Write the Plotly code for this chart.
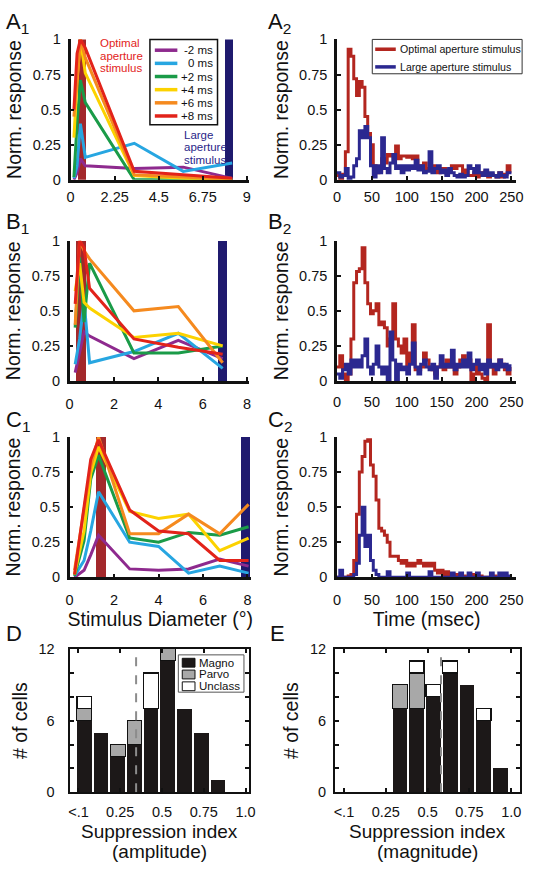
import plotly.graph_objects as go

W, H = 535, 869
FONT = "Liberation Sans, Arial, Helvetica, sans-serif"
BLACK = "#111111"

# ---------------- data ----------------
delay_labels = ["-2 ms", "0 ms", "+2 ms", "+4 ms", "+6 ms", "+8 ms"]
delay_colors = ["#8e2a8e", "#27a6e1", "#1a9b48", "#fcd200", "#f58a1f", "#e2231a"]

# Panel A1 : normalised response vs stimulus diameter (deg)
a1_diameter = [0.17, 0.33, 0.5, 0.75, 3.25, 5.75, 8.25]
a1_m2 = [0.00, 0.05, 0.15, 0.10, 0.08, 0.09, 0.01]
a1_0 = [0.01, 0.10, 0.40, 0.16, 0.26, 0.06, 0.12]
a1_p2 = [0.02, 0.40, 0.71, 0.55, 0.00, 0.00, 0.00]
a1_p4 = [0.30, 0.70, 1.00, 0.76, 0.03, 0.01, 0.00]
a1_p6 = [0.45, 0.69, 1.00, 0.87, 0.035, 0.02, 0.00]
a1_p8 = [0.50, 0.90, 1.00, 0.94, 0.06, 0.035, 0.01]

# Panel B1
b1_diameter = [0.25, 0.45, 0.65, 0.9, 2.9, 4.9, 6.9]
b1_m2 = [0.06, 0.20, 0.35, 0.32, 0.16, 0.29, 0.16]
b1_0 = [0.12, 0.30, 0.57, 0.13, 0.21, 0.34, 0.09]
b1_p2 = [0.38, 0.88, 0.42, 0.84, 0.20, 0.20, 0.25]
b1_p4 = [0.64, 0.84, 0.56, 0.52, 0.31, 0.34, 0.25]
b1_p6 = [0.40, 1.00, 0.93, 0.87, 0.50, 0.53, 0.13]
b1_p8 = [0.55, 1.00, 0.95, 0.66, 0.30, 0.24, 0.19]

# Panel C1
c1_diameter = [0.22, 0.65, 0.95, 1.3, 2.7, 4.0, 5.35, 6.75, 8.05]
c1_m2 = [0.00, 0.05, 0.16, 0.30, 0.06, 0.05, 0.06, 0.13, 0.08]
c1_0 = [0.01, 0.12, 0.33, 0.61, 0.25, 0.22, 0.03, 0.08, 0.03]
c1_p2 = [0.01, 0.26, 0.70, 0.87, 0.28, 0.25, 0.32, 0.30, 0.36]
c1_p4 = [0.02, 0.33, 0.74, 0.93, 0.47, 0.42, 0.45, 0.19, 0.28]
c1_p6 = [0.05, 0.47, 0.79, 1.00, 0.31, 0.31, 0.45, 0.31, 0.52]
c1_p8 = [0.02, 0.49, 0.84, 0.98, 0.48, 0.33, 0.31, 0.12, 0.12]

# optimal / large aperture markers (diameter, normalised height)
optimal_aperture = [0.58, 0.51, 1.4]
large_aperture = [8.1, 6.88, 7.92]
aperture_height = 1.0

# PSTHs (4 ms bins, 0-248 ms)
psth_time = list(range(0, 252, 4))
a2_optimal = [0.03, 0.00, 0.04, 0.20, 0.93, 0.88, 0.72, 0.60, 0.70, 0.66,
              0.45, 0.33, 0.25, 0.10, 0.05, 0.06, 0.15, 0.12, 0.18, 0.17,
              0.18, 0.24, 0.15, 0.17, 0.17, 0.16, 0.17, 0.15, 0.17, 0.10,
              0.10, 0.12, 0.08, 0.08, 0.10, 0.08, 0.05, 0.08, 0.08, 0.05,
              0.06, 0.10, 0.08, 0.10, 0.10, 0.05, 0.07, 0.03, 0.03, 0.05,
              0.02, 0.05, 0.03, 0.06, 0.02, 0.04, 0.03, 0.02, 0.05, 0.02,
              0.04, 0.10, 0.05]
a2_large = [0.05, 0.02, 0.03, 0.08, 0.00, 0.02, 0.10, 0.15, 0.35, 0.30,
            0.38, 0.30, 0.10, 0.02, 0.10, 0.05, 0.30, 0.08, 0.05, 0.12,
            0.18, 0.08, 0.10, 0.05, 0.10, 0.07, 0.10, 0.08, 0.14, 0.07,
            0.10, 0.05, 0.06, 0.20, 0.05, 0.08, 0.10, 0.05, 0.07, 0.03,
            0.08, 0.05, 0.03, 0.02, 0.04, 0.02, 0.03, 0.10, 0.08, 0.05,
            0.10, 0.05, 0.03, 0.07, 0.03, 0.05, 0.03, 0.02, 0.05, 0.03,
            0.02, 0.05, 0.04]
b2_optimal = [0.10, 0.18, 0.05, 0.00, 0.05, 0.30, 0.70, 0.78, 0.80, 0.95,
              0.70, 0.55, 0.48, 0.50, 0.55, 0.40, 0.42, 0.38, 0.25, 0.30,
              0.55, 0.30, 0.25, 0.20, 0.30, 0.10, 0.20, 0.40, 0.08, 0.08,
              0.10, 0.20, 0.15, 0.10, 0.08, 0.05, 0.10, 0.12, 0.08, 0.15,
              0.10, 0.12, 0.05, 0.10, 0.15, 0.18, 0.12, 0.15, 0.00, 0.05,
              0.12, 0.05, 0.02, 0.00, 0.40, 0.10, 0.05, 0.10, 0.15, 0.12,
              0.08, 0.05, 0.10]
b2_large = [0.05, 0.02, 0.08, 0.12, 0.05, 0.15, 0.10, 0.15, 0.10, 0.18,
            0.30, 0.10, 0.05, 0.12, 0.25, 0.10, 0.05, 0.10, 0.00, 0.35,
            0.15, 0.00, 0.12, 0.08, 0.10, 0.05, 0.12, 0.27, 0.10, 0.05,
            0.12, 0.15, 0.10, 0.08, 0.12, 0.02, 0.10, 0.18, 0.10, 0.12,
            0.10, 0.22, 0.08, 0.12, 0.10, 0.15, 0.10, 0.20, 0.08, 0.12,
            0.15, 0.08, 0.12, 0.05, 0.15, 0.10, 0.12, 0.08, 0.15, 0.10,
            0.12, 0.08, 0.12]
c2_optimal = [0.00, 0.00, 0.00, 0.00, 0.01, 0.02, 0.12, 0.45, 0.75, 0.86,
              0.97, 0.98, 0.80, 0.72, 0.55, 0.35, 0.33, 0.30, 0.25, 0.15,
              0.15, 0.15, 0.12, 0.10, 0.12, 0.08, 0.10, 0.08, 0.10, 0.12,
              0.10, 0.08, 0.10, 0.08, 0.10, 0.05, 0.03, 0.05, 0.02, 0.04,
              0.02, 0.02, 0.00, 0.02, 0.00, 0.01, 0.00, 0.00, 0.02, 0.00,
              0.00, 0.01, 0.00, 0.00, 0.00, 0.00, 0.01, 0.00, 0.00, 0.00,
              0.00, 0.00, 0.00]
c2_large = [0.00, 0.05, 0.00, 0.00, 0.00, 0.00, 0.02, 0.10, 0.30, 0.50,
            0.22, 0.30, 0.12, 0.05, 0.02, 0.00, 0.00, 0.00, 0.04, 0.00,
            0.00, 0.00, 0.00, 0.00, 0.00, 0.03, 0.00, 0.00, 0.00, 0.00,
            0.00, 0.00, 0.00, 0.04, 0.00, 0.00, 0.00, 0.00, 0.00, 0.00,
            0.00, 0.03, 0.00, 0.00, 0.03, 0.00, 0.00, 0.03, 0.00, 0.00,
            0.03, 0.00, 0.00, 0.00, 0.00, 0.03, 0.00, 0.00, 0.03, 0.00,
            0.03, 0.00, 0.02]
psth_labels = ["Optimal aperture stimulus", "Large aperture stimulus"]

# Histograms (D: amplitude, E: magnitude)
hist_bins = [0.035, 0.135, 0.235, 0.335, 0.435, 0.535, 0.635, 0.735, 0.835, 0.935]
d_magno = [6, 5, 3, 4, 7, 11, 7, 5, 1, 0]
d_parvo = [1, 0, 1, 2, 0, 1, 0, 0, 0, 0]
d_unclass = [1, 0, 0, 0, 3, 0, 0, 0, 0, 0]
e_magno = [0, 0, 0, 7, 7, 8, 10, 9, 6, 2]
e_parvo = [0, 0, 0, 2, 3, 0, 0, 0, 0, 0]
e_unclass = [0, 0, 0, 0, 1, 1, 1, 0, 1, 0]
d_median = 0.345
e_median = 0.58
cell_classes = ["Magno", "Parvo", "Unclass"]

resp_ticks = [0, 0.25, 0.5, 0.75, 1]
resp_ticktext = ["0", "0.25", "0.5", "0.75", "1"]
a1_ticks = [0, 2.25, 4.5, 6.75, 9]
a1_ticktext = ["0", "2.25", "4.5", "6.75", "9"]
bc1_ticks = [0, 2, 4, 6, 8]
time_ticks = [0, 50, 100, 150, 200, 250]
si_ticks = [0, 0.25, 0.5, 0.75, 1.0]
si_ticktext = ["<.1", "0.25", "0.5", "0.75", "1.0"]
count_ticks = [0, 6, 12]
count_minor_ticks = [2, 4, 8, 10]

# ---------------- styling ----------------
OPT_BAR = "#a3282b"
LARGE_BAR = "#1f1a6e"
OPT_TRACE = "#b3261f"
LARGE_TRACE = "#2b2890"
MAGNO = "#1c1818"
PARVO = "#a8a8a8"
UNCLASS = "#ffffff"


def px(x):
    return x / W


def py(y):
    return 1 - y / H


def refs(i):
    return ("x", "y") if i == 1 else (f"x{i}", f"y{i}")


fig = go.Figure()
ann = []
shapes = []


def add_tuning(i, diam, series, k):
    xr, yr = refs(i)
    fig.add_trace(go.Bar(x=[optimal_aperture[k]], y=[aperture_height], width=[0.45],
                         marker=dict(color=OPT_BAR, line=dict(width=0)),
                         xaxis=xr, yaxis=yr, showlegend=False))
    fig.add_trace(go.Bar(x=[large_aperture[k]], y=[aperture_height], width=[0.42],
                         marker=dict(color=LARGE_BAR, line=dict(width=0)),
                         xaxis=xr, yaxis=yr, showlegend=False))
    for vals, col, name in zip(series, delay_colors, delay_labels):
        fig.add_trace(go.Scatter(x=diam, y=vals, mode="lines", name=name,
                                 line=dict(color=col, width=3),
                                 xaxis=xr, yaxis=yr, showlegend=False))


def add_psth(i, opt, large):
    xr, yr = refs(i)
    fig.add_trace(go.Scatter(x=psth_time, y=opt, mode="lines", name=psth_labels[0],
                             line=dict(color=OPT_TRACE, width=3, shape="hv"),
                             xaxis=xr, yaxis=yr, showlegend=False))
    fig.add_trace(go.Scatter(x=psth_time, y=large, mode="lines", name=psth_labels[1],
                             line=dict(color=LARGE_TRACE, width=3, shape="hv"),
                             xaxis=xr, yaxis=yr, showlegend=False))


def nz(v):
    return [c if c else None for c in v]


def add_hist(i, magno, parvo, unclass, median):
    xr, yr = refs(i)
    styles = [(MAGNO, MAGNO, 0), (PARVO, BLACK, 1), (UNCLASS, BLACK, 1.3)]
    for vals, name, (fc, lc, lw) in zip([magno, parvo, unclass], cell_classes, styles):
        fig.add_trace(go.Bar(x=hist_bins, y=nz(vals), width=0.088, name=name,
                             marker=dict(color=fc, line=dict(color=lc, width=lw)),
                             xaxis=xr, yaxis=yr, showlegend=False))
    shapes.append(dict(type="line", xref=xr, yref=yr, x0=median, x1=median, y0=0, y1=12,
                       line=dict(color="#8c8c8c", width=2, dash="dash"), layer="above"))


add_tuning(1, a1_diameter, [a1_m2, a1_0, a1_p2, a1_p4, a1_p6, a1_p8], 0)
add_psth(2, a2_optimal, a2_large)
add_tuning(3, b1_diameter, [b1_m2, b1_0, b1_p2, b1_p4, b1_p6, b1_p8], 1)
add_psth(4, b2_optimal, b2_large)
add_tuning(5, c1_diameter, [c1_m2, c1_0, c1_p2, c1_p4, c1_p6, c1_p8], 2)
add_psth(6, c2_optimal, c2_large)
add_hist(7, d_magno, d_parvo, d_unclass, d_median)
add_hist(8, e_magno, e_parvo, e_unclass, e_median)

# ---------------- axes ----------------
TICKFONT = dict(size=14.5, color=BLACK, family=FONT)
TITLEFONT = dict(size=19.5, color=BLACK, family=FONT)


def xax(i, dom, rng, tv, tt, standoff, title=None, box=False, tstand=4):
    d = dict(domain=[px(dom[0]), px(dom[1])], range=rng, tickvals=tv, ticktext=tt,
             anchor=refs(i)[1], showline=True, linecolor=BLACK, linewidth=2.5,
             ticks="inside", ticklen=4, tickwidth=1.5, tickcolor=BLACK,
             showgrid=False, zeroline=False, tickfont=TICKFONT,
             ticklabelstandoff=standoff, fixedrange=True)
    if box:
        d.update(mirror="ticks", linewidth=2.2)
    if title:
        d["title"] = dict(text=title, font=TITLEFONT, standoff=tstand)
    return d


def yax(i, dom, rng, tv, title, tt=None, box=False, standoff=4):
    d = dict(domain=[py(dom[1]), py(dom[0])], range=rng, tickvals=tv,
             anchor=refs(i)[0], showline=True, linecolor=BLACK, linewidth=2.5,
             ticks="inside", ticklen=4, tickwidth=1.5, tickcolor=BLACK,
             showgrid=False, zeroline=False, tickfont=TICKFONT,
             ticklabelstandoff=standoff, fixedrange=True,
             title=dict(text=title, font=TITLEFONT, standoff=6))
    if tt is not None:
        d["ticktext"] = tt
    if box:
        d.update(mirror="ticks", linewidth=2.2,
                 minor=dict(tickvals=count_minor_ticks, ticks="inside", ticklen=4,
                            tickwidth=1.5, tickcolor=BLACK, showgrid=False))
    return d


time_tt = [str(t) for t in time_ticks]
bc_tt = [str(t) for t in bc1_ticks]
layout_axes = {
    "xaxis": xax(1, (68, 250), [0, 9.1], a1_ticks, a1_ticktext, 2),
    "yaxis": yax(1, (32, 175), [0, 1], resp_ticks, "Norm. response", resp_ticktext),
    "xaxis2": xax(2, (340, 523), [0, 257], time_ticks, time_tt, 2),
    "yaxis2": yax(2, (32, 175), [0, 1], resp_ticks, "Norm. response", resp_ticktext),
    "xaxis3": xax(3, (67, 250), [0, 8.08], bc1_ticks, bc_tt, 8),
    "yaxis3": yax(3, (237, 380), [0, 1], resp_ticks, "Norm. response", resp_ticktext),
    "xaxis4": xax(4, (340, 523), [0, 257], time_ticks, time_tt, 6),
    "yaxis4": yax(4, (237, 380), [0, 1], resp_ticks, "Norm. response", resp_ticktext),
    "xaxis5": xax(5, (67, 252), [0, 8.15], bc1_ticks, bc_tt, 8, "Stimulus Diameter (°)"),
    "yaxis5": yax(5, (437, 580), [0, 1], resp_ticks, "Norm. response", resp_ticktext),
    "xaxis6": xax(6, (340, 523), [0, 257], time_ticks, time_tt, 8, "Time (msec)"),
    "yaxis6": yax(6, (437, 580), [0, 1], resp_ticks, "Norm. response", resp_ticktext),
    "xaxis7": xax(7, (67, 250), [-0.053, 1.02], si_ticks, si_ticktext, 5, box=True),
    "yaxis7": yax(7, (653, 799), [0, 12], count_ticks, "# of cells", box=True, standoff=10),
    "xaxis8": xax(8, (338, 527), [-0.053, 1.053], si_ticks, si_ticktext, 5, box=True),
    "yaxis8": yax(8, (653, 799), [0, 12], count_ticks, "# of cells", box=True, standoff=4),
}

# ---------------- annotations / legends ----------------


def text(x, y, s, size, color=BLACK, xanchor="left"):
    ann.append(dict(x=px(x), y=py(y), xref="paper", yref="paper", text=s, showarrow=False,
                    xanchor=xanchor, yanchor="middle", font=dict(size=size, color=color, family=FONT)))


for lab, (x, y) in zip(["A<sub>1</sub>", "A<sub>2</sub>", "B<sub>1</sub>", "B<sub>2</sub>",
                        "C<sub>1</sub>", "C<sub>2</sub>", "D", "E"],
                       [(0, 15), (268, 15), (0, 219), (268, 219), (0, 421), (268, 421),
                        (0, 637), (270, 637)]):
    text(x, y, lab, 22)

# x titles of the histograms (two lines each)
for cx, sub in [(158.5, "(amplitude)"), (432.5, "(magnitude)")]:
    text(cx, 839, "Suppression index", 19, xanchor="center")
    text(cx, 859, sub, 19, xanchor="center")

# stimulus labels in A1
for j, w in enumerate(["Optimal", "aperture", "stimulus"]):
    text(96, 36 + 12.5 * j, w, 11.5, "#e2231a")
for j, w in enumerate(["Large", "aperture", "stimulus"]):
    text(182, 129 + 13 * j, w, 11.5, "#2a2688")

# A1 legend
shapes.append(dict(type="rect", xref="paper", yref="paper", x0=px(149), x1=px(218),
                   y0=py(119), y1=py(32), line=dict(color=BLACK, width=1.5), fillcolor="white",
                   layer="above"))
for j, (lab, col) in enumerate(zip(delay_labels, delay_colors)):
    yc = 43 + 13.4 * j
    shapes.append(dict(type="line", xref="paper", yref="paper", x0=px(154), x1=px(177),
                       y0=py(yc), y1=py(yc), line=dict(color=col, width=3.5), layer="above"))
    text(215, yc, lab, 11.5, xanchor="right")

# A2 legend
shapes.append(dict(type="rect", xref="paper", yref="paper", x0=px(376), x1=px(529),
                   y0=py(67), y1=py(32), line=dict(color="#333333", width=1), fillcolor="white",
                   layer="above"))
for j, (lab, col) in enumerate(zip(psth_labels, [OPT_TRACE, LARGE_TRACE])):
    yc = 42 + 18 * j
    shapes.append(dict(type="line", xref="paper", yref="paper", x0=px(379), x1=px(400),
                       y0=py(yc), y1=py(yc), line=dict(color=col, width=3.5), layer="above"))
    text(402, yc, lab, 10.6)

# D legend
shapes.append(dict(type="rect", xref="paper", yref="paper", x0=px(178), x1=px(245),
                   y0=py(697), y1=py(659), line=dict(color="#555555", width=1), fillcolor="white",
                   layer="above"))
for j, (lab, fc) in enumerate(zip(cell_classes, [MAGNO, PARVO, UNCLASS])):
    yc = 667 + 12 * j
    shapes.append(dict(type="rect", xref="paper", yref="paper", x0=px(182), x1=px(195),
                       y0=py(yc + 4.5), y1=py(yc - 4.5), fillcolor=fc,
                       line=dict(color=BLACK, width=1), layer="above"))
    text(197, yc, lab, 11.5)

fig.update_layout(
    width=W, height=H, margin=dict(l=0, r=0, t=0, b=0),
    paper_bgcolor="white", plot_bgcolor="white",
    font=dict(family=FONT, color=BLACK),
    barmode="stack", showlegend=False,
    annotations=ann, shapes=shapes,
    **layout_axes,
)

fig.write_html(
    "out.html",
    config={"displayModeBar": False},
    post_script=(
        "document.documentElement.style.overflow='hidden';"
        "document.body.style.margin='0';document.body.style.padding='0';"
        "document.body.style.overflow='hidden';"
        "var gd=document.getElementById('{plot_id}');"
        "gd.style.overflow='hidden';"
        "if(gd.parentElement){gd.parentElement.style.overflow='hidden';"
        "gd.parentElement.style.width='535px';gd.parentElement.style.height='869px';}"
    ),
)
